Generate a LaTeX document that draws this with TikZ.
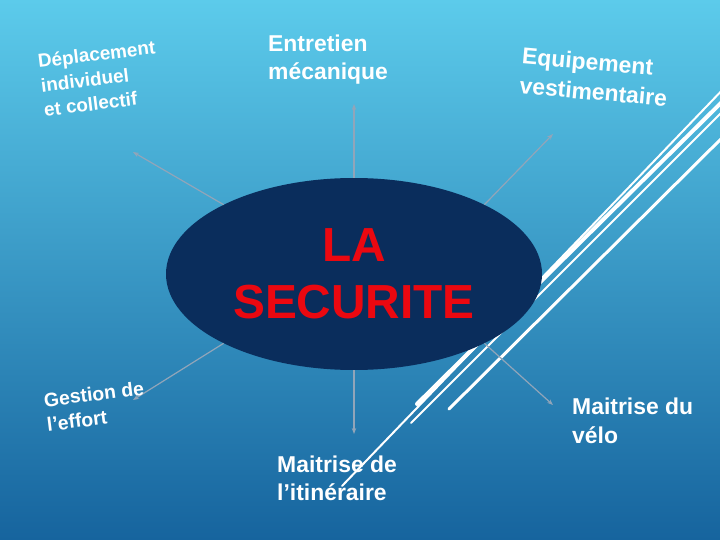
\documentclass[tikz,border=0pt]{standalone}
\usepackage{fontspec}
\setmainfont{Liberation Sans}
\usetikzlibrary{arrows.meta,shapes.geometric}
\definecolor{fond1}{RGB}{92,203,235}
\definecolor{fond2}{RGB}{22,100,158}
\definecolor{marine}{RGB}{10,45,92}
\definecolor{rouge}{RGB}{235,8,16}
\definecolor{gris}{RGB}{145,165,185}
\tikzset{
bulle/.style={
  ellipse,
  minimum width=376bp,
  minimum height=192bp,
  inner sep=0pt,
  fill=marine,
  text=rouge,
  align=center,
  font=\bfseries\fontsize{48}{57}\selectfont,
},
lbl/.style={
  text=white,
  inner sep=0pt,
  align=left,
  anchor=north west,
  font=\bfseries\fontsize{23}{28}\selectfont,
},
pil/.style={
  draw=gris,
  line width=1.2bp,
  -{Stealth[length=6bp,width=4.5bp]},
},
trait/.style={draw=white, line cap=round},
}

\begin{document}
\begin{tikzpicture}[x=1bp,y=-1bp]
\useasboundingbox (0,0) rectangle (720,540);
\shade[top color=fond1,bottom color=fond2] (0,0) rectangle (720,540);

% traits blancs
\draw[trait,line width=2bp] (730,82) -- (342,486);
\draw[trait,line width=4bp] (730,94) -- (417,404);
\draw[trait,line width=2bp] (730,104) -- (411,423);
\draw[trait,line width=3bp] (730,130) -- (449,409);

\node[bulle] (sec) at (354,274) {LA\\SECURITE};

\coordinate (p0) at (354,104);
\coordinate (p1) at (133,152);
\coordinate (p2) at (553,134);
\coordinate (p3) at (133,400);
\coordinate (p4) at (354,434);
\coordinate (p5) at (553,405);

\draw[pil] (sec.north) -- (p0);
\draw[pil] (sec.152) -- (p1);
\draw[pil] (sec.28) -- (p2);
\draw[pil] (sec.208) -- (p3);
\draw[pil] (sec.south) -- (p4);
\draw[pil] (sec.332) -- (p5);

\node[lbl,rotate=7,font=\bfseries\fontsize{19}{24.5}\selectfont] (dep) at (37,54) {Déplacement\\individuel\\et collectif};
\node[lbl] (ent) at (268,35) {Entretien\\mécanique};
\node[lbl,rotate=-5,font=\bfseries\fontsize{23}{30}\selectfont] (equ) at (523,47) {Equipement\\vestimentaire};
\node[lbl,rotate=7,font=\bfseries\fontsize{19.5}{24.5}\selectfont] (ges) at (43,393) {Gestion de\\l’effort};
\node[lbl,font=\bfseries\fontsize{23}{29}\selectfont] (vel) at (572,398) {Maitrise du\\vélo};
\node[lbl] (iti) at (277,456) {Maitrise de\\l’itinéraire};
\end{tikzpicture}
\end{document}
